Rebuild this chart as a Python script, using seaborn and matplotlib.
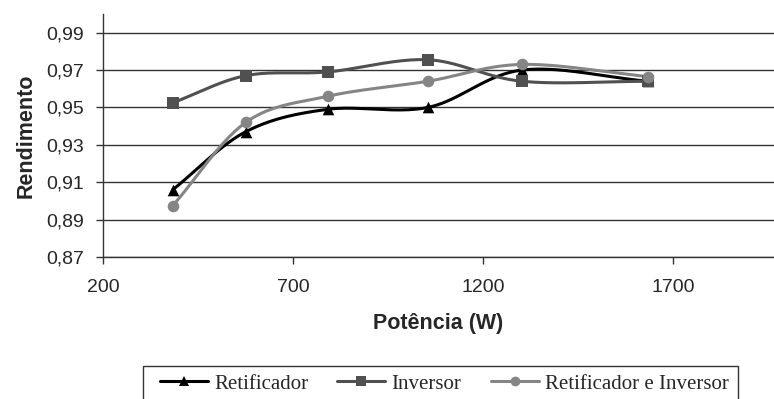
import numpy as np
import pandas as pd
import matplotlib
matplotlib.use("Agg")
import matplotlib.pyplot as plt
from matplotlib.patches import Rectangle
import seaborn as sns

# Measured efficiency vs. power
potencia = [384, 576, 792, 1055, 1303, 1634]
retificador = [0.906, 0.937, 0.949, 0.950, 0.970, 0.964]
inversor = [0.9525, 0.967, 0.969, 0.9755, 0.964, 0.964]
retif_inv = [0.8975, 0.942, 0.956, 0.964, 0.973, 0.9665]

series_names = ["Retificador", "Inversor", "Retificador e Inversor"]
series_values = [retificador, inversor, retif_inv]
colors = ["#000000", "#505050", "#858585"]
markers = ["^", "s", "o"]

x_ticks = [200, 700, 1200, 1700]
y_ticks = [0.87, 0.89, 0.91, 0.93, 0.95, 0.97, 0.99]


def smooth(x, y, n=40):
    """Catmull-Rom style smoothing through the given points."""
    x = np.asarray(x, float)
    y = np.asarray(y, float)
    px = np.concatenate([[2 * x[0] - x[1]], x, [2 * x[-1] - x[-2]]])
    py = np.concatenate([[2 * y[0] - y[1]], y, [2 * y[-1] - y[-2]]])
    xs, ys = [], []
    for i in range(1, len(px) - 2):
        t = np.linspace(0, 1, n)
        t2, t3 = t * t, t * t * t
        for p, out in ((px, xs), (py, ys)):
            p0, p1, p2, p3 = p[i - 1], p[i], p[i + 1], p[i + 2]
            out.append(0.5 * ((2 * p1) + (-p0 + p2) * t
                              + (2 * p0 - 5 * p1 + 4 * p2 - p3) * t2
                              + (-p0 + 3 * p1 - 3 * p2 + p3) * t3))
    return np.concatenate(xs), np.concatenate(ys)


sns.set_theme(style="white")
plt.rcParams["font.family"] = ["Liberation Sans", "DejaVu Sans"]

W, H = 774, 399
fig = plt.figure(figsize=(W / 100, H / 100), dpi=100)
ax = fig.add_axes([0.133, 0.356, 0.867, 0.609])

handles = []
for name, vals, c, m in zip(series_names, series_values, colors, markers):
    sx, sy = smooth(potencia, vals)
    curve = pd.DataFrame({"x": sx, "y": sy})
    sns.lineplot(data=curve, x="x", y="y", ax=ax, color=c, lw=2.2, sort=False,
                 estimator=None, zorder=3)
    pts = pd.DataFrame({"x": potencia, "y": vals})
    sns.scatterplot(data=pts, x="x", y="y", ax=ax, color=c, marker=m, s=70,
                    edgecolor=c, linewidth=0, zorder=4)
    handles.append(plt.Line2D([], [], color=c, lw=2.2, marker=m, markersize=7,
                              markeredgewidth=0, label=name))

ax.set_xlim(200, 1966)
ax.set_ylim(0.87, 1.0)
ax.set_xticks(x_ticks)
ax.set_xticklabels([str(v) for v in x_ticks], fontsize=14)
ax.set_yticks(y_ticks)
ax.set_yticklabels([f"{v:.2f}".replace(".", ",") for v in y_ticks], fontsize=14)
ax.grid(axis="y", color="#333333", lw=1)
ax.grid(axis="x", visible=False)
ax.set_axisbelow(True)

for side in ("top", "right"):
    ax.spines[side].set_visible(False)
for side in ("left", "bottom"):
    ax.spines[side].set_color("#333333")
    ax.spines[side].set_linewidth(1)
ax.tick_params(axis="x", direction="out", length=5, width=1,
               color="#333333", pad=11, bottom=True)
ax.tick_params(axis="y", direction="out", length=5, width=1,
               color="#333333", pad=8.5, left=True)

ax.set_xlabel("Potência (W)", fontsize=15.5, fontweight="bold", labelpad=12)
ax.set_ylabel("Rendimento", fontsize=15.5, fontweight="bold", labelpad=7)

# Legend entries without frame; the box is drawn separately with wider side margins
leg = fig.legend(handles=handles, loc="upper left",
                 bbox_to_anchor=(160 / W, 1 - 374 / H),
                 ncol=3, frameon=False, borderaxespad=0, borderpad=0,
                 handlelength=2.3, handletextpad=0.3, columnspacing=1.4,
                 prop={"family": ["Liberation Serif"], "size": 15})
fig.patches.append(Rectangle((143 / W, -0.1), (738 - 143) / W, 0.1 + 1 - 366 / H,
                             transform=fig.transFigure, fill=False,
                             edgecolor="#333333", linewidth=1))

fig.savefig("out.png", dpi=100)
